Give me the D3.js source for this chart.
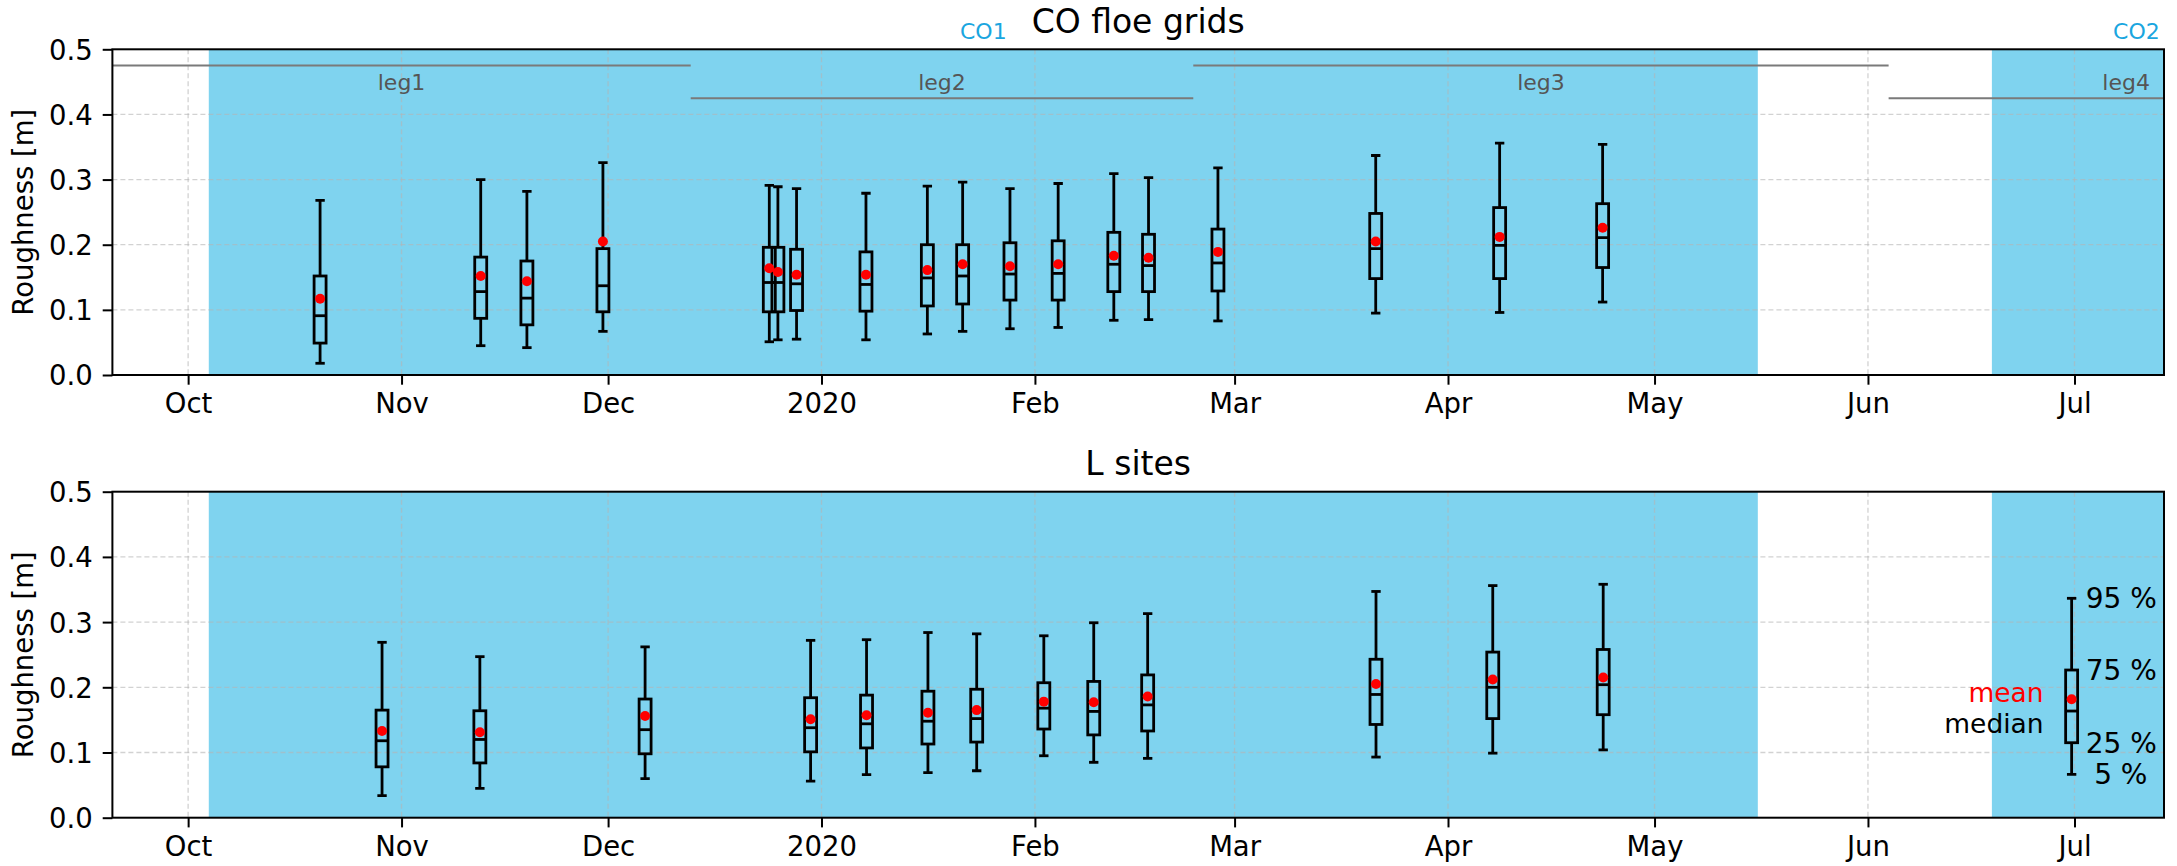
<!DOCTYPE html>
<html>
<head>
<meta charset="utf-8">
<script src="https://cdn.jsdelivr.net/npm/d3@7"></script>
<style>
  html, body { margin: 0; padding: 0; background: #fff; }
  svg { display: block; font-family: "DejaVu Sans", sans-serif; }
</style>
</head>
<body>
<svg id="chart" width="2177" height="866"></svg>
<script>
// ---------------- DATA ----------------
// CO floe grids (top panel)
const topDates  = ["2019-10-20T04","2019-11-12T12","2019-11-19T05","2019-11-30T06","2019-12-24T10","2019-12-25T16",
                   "2019-12-28T09","2020-01-07T11","2020-01-16T09","2020-01-21T12","2020-01-28T09","2020-02-04T09",
                   "2020-02-12T11","2020-02-17T12","2020-02-27T14","2020-03-21T12","2020-04-08T12","2020-04-23T11"];
const topP95    = [0.268,0.300,0.282,0.326,0.291,0.289,0.286,0.279,0.290,0.296,0.286,0.294,0.309,0.303,0.318,0.337,0.356,0.354];
const topQ3     = [0.152,0.181,0.175,0.194,0.196,0.196,0.193,0.189,0.200,0.200,0.203,0.206,0.219,0.216,0.224,0.248,0.257,0.263];
const topMedian = [0.091,0.128,0.118,0.137,0.142,0.142,0.140,0.139,0.149,0.152,0.155,0.156,0.170,0.168,0.172,0.194,0.199,0.211];
const topQ1     = [0.049,0.087,0.077,0.097,0.097,0.097,0.099,0.098,0.106,0.109,0.115,0.115,0.128,0.128,0.129,0.148,0.148,0.165];
const topP5     = [0.018,0.045,0.042,0.067,0.051,0.054,0.055,0.054,0.063,0.067,0.071,0.073,0.084,0.085,0.083,0.095,0.096,0.112];
const topMean   = [0.117,0.152,0.144,0.205,0.164,0.158,0.154,0.154,0.161,0.170,0.167,0.170,0.183,0.180,0.189,0.205,0.212,0.226];

// L sites (bottom panel)
const botDates  = ["2019-10-29T04","2019-11-12T09","2019-12-06T09","2019-12-30T10","2020-01-07T13","2020-01-16T11",
                   "2020-01-23T13","2020-02-02T07","2020-02-09T13","2020-02-17T09","2020-03-21T13","2020-04-07T12",
                   "2020-04-23T13"];
const botP95    = [0.269,0.247,0.262,0.272,0.273,0.284,0.282,0.279,0.299,0.313,0.347,0.356,0.358];
const botQ3     = [0.165,0.164,0.182,0.184,0.188,0.194,0.197,0.207,0.209,0.219,0.243,0.254,0.258];
const botMedian = [0.118,0.120,0.135,0.138,0.144,0.148,0.152,0.168,0.163,0.173,0.189,0.200,0.204];
const botQ1     = [0.078,0.084,0.098,0.101,0.107,0.113,0.116,0.136,0.127,0.133,0.143,0.152,0.158];
const botP5     = [0.034,0.045,0.060,0.056,0.066,0.069,0.072,0.095,0.085,0.091,0.093,0.099,0.104];
const botMean   = [0.133,0.131,0.156,0.151,0.157,0.161,0.165,0.178,0.177,0.186,0.205,0.212,0.215];

// example (legend) box in the bottom panel
const keyDate   = "2020-06-30T14";
const keyValues = [0.0665, 0.115, 0.1636, 0.2265, 0.3365]; // p5, q1, median, q3, p95
const keyMean   = 0.1816;
const keyLabels = ["5 %", "25 %", "median", "75 %", "95 %"];

// periods
const coNames   = ["CO1", "CO2"];
const coStart   = ["2019-10-04", "2020-06-19"];
const coEnd     = ["2020-05-16", "2020-07-31"];
const legNames  = ["leg1", "leg2", "leg3", "leg4"];
const legStart  = ["2019-09-20", "2019-12-13", "2020-02-24", "2020-06-04"];
const legEnd    = ["2019-12-13", "2020-02-24", "2020-06-04", "2020-08-12"];
const legLevel  = [0.475, 0.425, 0.475, 0.425];
const legLabelY = 0.45;

const yTicks    = [0.0, 0.1, 0.2, 0.3, 0.4, 0.5];
const xDomain   = ["2019-09-20", "2020-07-14"];
const panelTitles = ["CO floe grids", "L sites"];

// ---------------- DRAWING ----------------
const parse = s => new Date(s.length <= 10 ? s + "T00:00:00Z" : s + ":00:00Z");
const svg = d3.select("#chart");

const left = 112.4, right = 2164;
const x = d3.scaleUtc().domain(xDomain.map(parse)).range([left, right]);
const monthTicks = d3.utcMonth.range(parse("2019-10-01"), parse("2020-07-02"));
const fmtMonth = d => d.getUTCMonth() === 0 ? String(d.getUTCFullYear()) : d3.utcFormat("%b")(d);

const BLUE = "#7fd3ef";
const FS = 27.5;

function panel(top, bottom, title, data, opts) {
  const y = d3.scaleLinear().domain([0, 0.5]).range([bottom, top]);
  const g = svg.append("g");
  const clipId = "clip" + Math.round(top);
  g.append("clipPath").attr("id", clipId).append("rect")
    .attr("x", left).attr("y", top).attr("width", right - left).attr("height", bottom - top);
  const plot = g.append("g").attr("clip-path", `url(#${clipId})`);

  // blue CO periods
  plot.selectAll("rect.co").data(coNames).enter().append("rect")
    .attr("x", (d, i) => x(parse(coStart[i])))
    .attr("width", (d, i) => x(parse(coEnd[i])) - x(parse(coStart[i])))
    .attr("y", top).attr("height", bottom - top)
    .attr("fill", BLUE);

  // grid
  plot.selectAll("line.hg").data(yTicks.slice(1, -1)).enter().append("line")
    .attr("x1", left).attr("x2", right).attr("y1", d => y(d)).attr("y2", d => y(d))
    .attr("stroke", "#b4b4b4").attr("stroke-opacity", 0.6).attr("stroke-width", 1.3)
    .attr("stroke-dasharray", "5,3");
  plot.selectAll("line.vg").data(monthTicks).enter().append("line")
    .attr("x1", d => x(d)).attr("x2", d => x(d)).attr("y1", top).attr("y2", bottom)
    .attr("stroke", "#b4b4b4").attr("stroke-opacity", 0.6).attr("stroke-width", 1.3)
    .attr("stroke-dasharray", "5,3");

  if (opts.legs) {
    plot.selectAll("line.leg").data(legNames).enter().append("line")
      .attr("x1", (d, i) => x(parse(legStart[i]))).attr("x2", (d, i) => x(parse(legEnd[i])))
      .attr("y1", (d, i) => y(legLevel[i])).attr("y2", (d, i) => y(legLevel[i]))
      .attr("stroke", "#7a7a7a").attr("stroke-width", 2);
    plot.selectAll("text.leg").data(legNames).enter().append("text")
      .attr("x", (d, i) => x(new Date((parse(legStart[i]).getTime() + parse(legEnd[i]).getTime()) / 2)))
      .attr("y", y(legLabelY)).attr("dy", "0.36em")
      .attr("text-anchor", "middle").attr("font-size", 22).attr("fill", "#555555")
      .text(d => d);
    g.selectAll("text.co").data(coNames).enter().append("text")
      .attr("x", (d, i) => {
        const s = parse(coStart[i]).getTime(), e = parse(coEnd[i]).getTime();
        return x(new Date((s + e) / 2));
      })
      .attr("y", top - 10).attr("text-anchor", "middle")
      .attr("font-size", 22).attr("fill", "#1aa6df").text(d => d);
  }

  // boxes
  const day = x(parse("2019-10-02")) - x(parse("2019-10-01"));
  const bw = day * 0.87;
  const cap = day * 0.68;
  const bx = plot.append("g").attr("stroke", "#000").attr("stroke-width", 2.8).attr("fill", "none");
  data.forEach(b => {
    const cx = x(parse(b.date));
    bx.append("line").attr("x1", cx).attr("x2", cx).attr("y1", y(b.p5)).attr("y2", y(b.q1));
    bx.append("line").attr("x1", cx).attr("x2", cx).attr("y1", y(b.q3)).attr("y2", y(b.p95));
    bx.append("line").attr("x1", cx - cap).attr("x2", cx + cap).attr("y1", y(b.p5)).attr("y2", y(b.p5));
    bx.append("line").attr("x1", cx - cap).attr("x2", cx + cap).attr("y1", y(b.p95)).attr("y2", y(b.p95));
    bx.append("rect").attr("x", cx - bw).attr("width", 2 * bw)
      .attr("y", y(b.q3)).attr("height", y(b.q1) - y(b.q3));
    bx.append("line").attr("x1", cx - bw).attr("x2", cx + bw).attr("y1", y(b.med)).attr("y2", y(b.med));
  });
  plot.selectAll("circle.mean").data(data).enter().append("circle")
    .attr("cx", d => x(parse(d.date))).attr("cy", d => y(d.mean)).attr("r", 5).attr("fill", "#ff0000");

  // axes
  const xa = g.append("g").attr("transform", `translate(0,${bottom})`)
    .call(d3.axisBottom(x).tickValues(monthTicks).tickFormat(fmtMonth).tickSize(9.7).tickSizeOuter(0).tickPadding(9));
  const ya = g.append("g").attr("transform", `translate(${left},0)`)
    .call(d3.axisLeft(y).tickValues(yTicks).tickFormat(d3.format(".1f")).tickSize(9.7).tickSizeOuter(0).tickPadding(10));
  [xa, ya].forEach(a => {
    a.select(".domain").remove();
    a.selectAll("line").attr("stroke", "#000").attr("stroke-width", 2);
    a.selectAll("text").attr("font-size", FS).attr("fill", "#000").attr("font-family", "DejaVu Sans");
  });
  ya.selectAll("text").attr("dy", "0.36em");

  g.append("rect").attr("x", left).attr("y", top).attr("width", right - left).attr("height", bottom - top)
    .attr("fill", "none").attr("stroke", "#000").attr("stroke-width", 2);

  g.append("text").attr("transform", `translate(33,${(top + bottom) / 2}) rotate(-90)`)
    .attr("text-anchor", "middle").attr("font-size", FS).attr("fill", "#000").text("Roughness [m]");
  g.append("text").attr("x", (left + right) / 2).attr("y", top - 16.5)
    .attr("text-anchor", "middle").attr("font-size", 33).attr("fill", "#000").text(title);

  return {g, y, plot};
}

const zip = (dates, p5, q1, med, q3, p95, mean) =>
  dates.map((d, i) => ({date: d, p5: p5[i], q1: q1[i], med: med[i], q3: q3[i], p95: p95[i], mean: mean[i]}));

panel(49.3, 375, panelTitles[0], zip(topDates, topP5, topQ1, topMedian, topQ3, topP95, topMean), {legs: true});

const keyBox = {date: keyDate, p5: keyValues[0], q1: keyValues[1], med: keyValues[2], q3: keyValues[3], p95: keyValues[4], mean: keyMean};
const bot = panel(491.7, 817.7, panelTitles[1],
  zip(botDates, botP5, botQ1, botMedian, botQ3, botP95, botMean).concat([keyBox]), {legs: false});

// key annotations
const kx = x(parse(keyDate));
const pctIdx = [0, 1, 3, 4];
svg.selectAll("text.pct").data(pctIdx).enter().append("text")
  .attr("x", i => kx + (i === 0 ? 22.5 : 14))
  .attr("y", i => bot.y(keyValues[i])).attr("dy", "0.36em")
  .attr("font-size", 28).attr("fill", "#000").text(i => keyLabels[i]);
svg.append("text").attr("x", kx - 28).attr("y", bot.y(keyMean) + 2.5)
  .attr("text-anchor", "end").attr("font-size", 26.5).attr("fill", "#ff0000").text("mean");
svg.append("text").attr("x", kx - 28).attr("y", bot.y(keyValues[2]) + 22)
  .attr("text-anchor", "end").attr("font-size", 26.5).attr("fill", "#000").text(keyLabels[2]);
</script>
</body>
</html>
